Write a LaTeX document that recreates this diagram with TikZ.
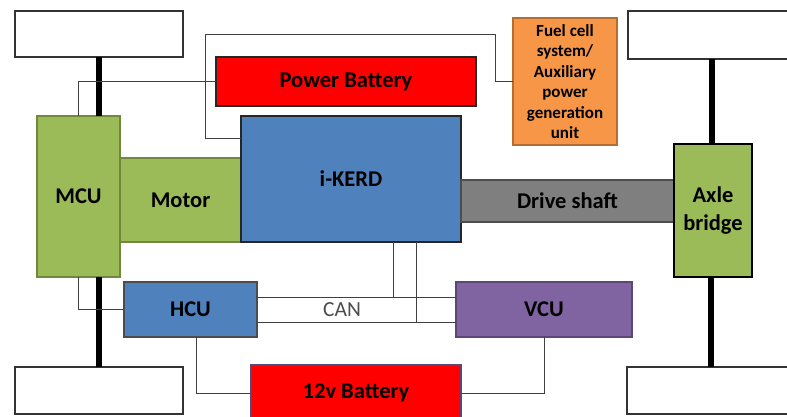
\documentclass[tikz,border=0pt]{standalone}
\usepackage{fontspec}
\setmainfont{Carlito}
\usepackage{xcolor}
\definecolor{leafgreen}{HTML}{9BBB59}
\definecolor{leafedge}{HTML}{71893F}
\definecolor{steelblue}{HTML}{4F81BD}
\definecolor{plum}{HTML}{8064A2}
\definecolor{plumedge}{HTML}{5C4776}
\definecolor{amber}{HTML}{F79646}
\definecolor{amberedge}{HTML}{B66D31}
\definecolor{shaftgray}{HTML}{7F7F7F}
\definecolor{wiregray}{HTML}{404040}

\begin{document}
\begin{tikzpicture}[
  x=1pt,y=-1pt,
  block/.style={draw,line width=1.2pt,inner sep=0pt,outer sep=0pt,align=center,
                font=\fontsize{22.5}{28}\selectfont\bfseries},
  wheel/.style={draw=black!80,line width=1.2pt,fill=white,inner sep=0pt,outer sep=0pt},
  wire/.style={draw=wiregray,line width=0.9pt},
  axle/.style={line width=6pt,black}
]
\useasboundingbox (0,0) rectangle (787,417);
% wheels and axles
\node[wheel,minimum width=168,minimum height=46] (wtl) at (99,34) {};
\node[wheel,minimum width=167,minimum height=48] (wtr) at (711.5,35) {};
\node[wheel,minimum width=168,minimum height=47] (wbl) at (99,390.5) {};
\node[wheel,minimum width=168,minimum height=47] (wbr) at (711,390.5) {};
% blocks
\node[block,fill=leafgreen,draw=leafedge,minimum width=83,minimum height=161] (mcu) at (78.5,196.5) {MCU};
\node[block,fill=leafgreen,draw=leafedge,minimum width=121,minimum height=84] (motor) at (180.5,200) {Motor};
\node[block,fill=steelblue,draw=black!85,minimum width=220,minimum height=126] (kerd) at (351,179) {i-KERD};
\node[block,fill=red,draw=black!85,minimum width=260,minimum height=49] (pbat) at (346,81.5) {Power Battery};
\node[block,fill=amber,draw=amberedge,minimum width=104,minimum height=127,
      font=\fontsize{17}{20.5}\selectfont\bfseries] (fuel) at (565,81.5)
      {Fuel cell\\system/\\Auxiliary\\power\\generation\\unit};
\node[block,fill=shaftgray,draw=black!70,minimum width=213,minimum height=42] (shaft) at (567.5,201) {Drive shaft};
\node[block,fill=leafgreen,draw=black,minimum width=78,minimum height=133] (bridge) at (713,210.5) {Axle\\bridge};
\node[block,fill=steelblue,draw=black!70,minimum width=133,minimum height=55] (hcu) at (190.5,309.5) {HCU};
\node[block,fill=plum,draw=plumedge,minimum width=176,minimum height=55] (vcu) at (544,309.5) {VCU};
\node[block,fill=red,draw=plumedge,minimum width=210,minimum height=56] (bat12) at (356,393) {12v Battery};

\draw[axle] (wtl.south) -- (wtl.south |- mcu.north);
\draw[axle] (mcu.south -| wbl.north) -- (wbl.north);
\draw[axle] (wtr.south) -- (wtr.south |- bridge.north);
\draw[axle] (bridge.south -| wbr.north) -- (wbr.north);

% signal wires
\coordinate (tapa) at (393,297);
\coordinate (tapb) at (416,322);
\draw[wire] (mcu.north) |- (pbat.west);
\draw[wire] (kerd.west |- 0,138) -- (205,138) |- (495,34) |- (fuel.west);
\draw[wire] (mcu.south) |- (hcu.west);
\draw[wire] (hcu.east |- tapa) -- (vcu.west |- tapa);
\draw[wire] (hcu.east |- tapb) -- (vcu.west |- tapb);
\draw[wire] (kerd.south -| tapa) -- (tapa);
\draw[wire] (kerd.south -| tapb) -- (tapb);
\draw[wire] ([xshift=6pt]hcu.south) |- (bat12.west);
\draw[wire] (vcu.south) |- (bat12.east);
\node[font=\fontsize{21.5}{25}\selectfont,text=black!70,inner sep=0pt] (can) at (342,309.5) {CAN};
\end{tikzpicture}
\end{document}
